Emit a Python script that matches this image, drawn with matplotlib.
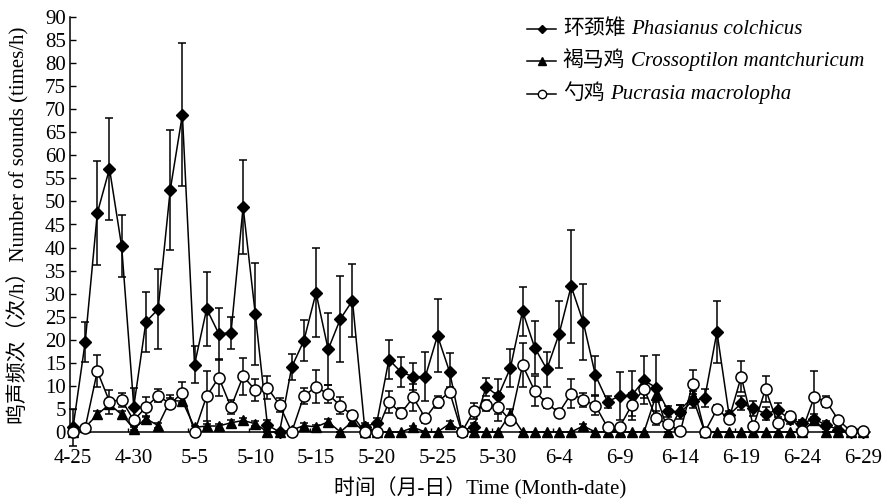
import matplotlib
matplotlib.use('Agg')
import matplotlib.pyplot as plt
from matplotlib.lines import Line2D
import numpy as np

# days from 4-25 to 6-29
days = np.arange(66)
tick_pos = np.arange(0, 66, 5)
tick_labels = ['4-25', '4-30', '5-5', '5-10', '5-15', '5-20', '5-25', '5-30',
               '6-4', '6-9', '6-14', '6-19', '6-24', '6-29']

# 环颈雉 Phasianus colchicus
phasianus = [1.0, 19.5, 47.5, 57.1, 40.3, 5.5, 23.9, 26.6, 52.5, 68.8,
             14.6, 26.7, 21.3, 21.5, 48.8, 25.6, 1.5, 0.0, 14.1, 19.8,
             30.2, 17.9, 24.5, 28.5, 1.1, 2.0, 15.7, 13.0, 12.0, 12.0,
             20.9, 13.0, 0.3, 1.1, 9.8, 7.8, 13.9, 26.2, 18.3, 13.6,
             21.2, 31.6, 23.8, 12.3, 6.6, 7.8, 8.0, 11.2, 9.6, 4.5,
             4.3, 6.7, 7.4, 21.7, 3.7, 6.2, 5.1, 4.0, 4.7, 2.8,
             1.9, 2.8, 1.5, 0.5, 0.0, 0.0]
phasianus_err = [4.0, 4.3, 11.2, 11.1, 6.7, 4.0, 6.5, 8.7, 13.0, 15.5,
                 4.0, 8.0, 5.7, 3.5, 10.2, 11.0, 1.0, 0.0, 2.8, 4.5,
                 9.6, 7.8, 9.3, 7.9, 0.8, 1.0, 4.2, 3.2, 2.9, 5.3,
                 7.9, 4.2, 0.5, 0.8, 2.0, 3.8, 4.1, 5.3, 5.8, 3.8,
                 7.3, 12.3, 8.2, 4.2, 1.3, 5.2, 5.3, 5.2, 7.2, 1.2,
                 1.5, 1.5, 2.0, 6.7, 0.8, 1.5, 1.6, 1.5, 1.5, 1.0,
                 0.8, 1.0, 0.8, 0.5, 0.0, 0.0]

# 褐马鸡 Crossoptilon mantchuricum
crossoptilon = [0.0, 1.0, 3.8, 6.0, 3.8, 0.7, 2.9, 1.4, 6.8, 6.7,
                1.0, 1.3, 1.3, 2.0, 2.5, 1.8, 0.0, 0.0, 0.4, 1.4,
                1.1, 2.2, 0.0, 2.3, 0.0, 0.0, 0.0, 0.0, 1.0, 0.0,
                0.0, 1.8, 0.3, 0.0, 0.0, 0.0, 4.0, 0.0, 0.0, 0.0,
                0.0, 0.0, 1.3, 0.0, 0.0, 0.0, 0.0, 0.0, 8.0, 0.0,
                4.9, 7.5, 0.0, 0.0, 0.0, 0.0, 0.0, 0.0, 0.0, 0.0,
                0.0, 2.5, 0.0, 0.0, 0.0, 0.0]
crossoptilon_err = [0.0, 0.5, 0.8, 1.0, 0.8, 0.3, 0.6, 0.5, 1.2, 1.0,
                    0.4, 0.5, 0.5, 0.6, 0.6, 0.5, 0.0, 0.0, 0.2, 0.5,
                    0.4, 0.6, 0.0, 0.6, 0.0, 0.0, 0.0, 0.0, 0.4, 0.0,
                    0.0, 0.6, 0.2, 0.0, 0.0, 0.0, 1.0, 0.0, 0.0, 0.0,
                    0.0, 0.0, 0.5, 0.0, 0.0, 0.0, 0.0, 0.0, 1.5, 0.0,
                    1.0, 1.5, 0.0, 0.0, 0.0, 0.0, 0.0, 0.0, 0.0, 0.0,
                    0.0, 0.8, 0.0, 0.0, 0.0, 0.0]

# 勺鸡 Pucrasia macrolopha
pucrasia = [0.0, 0.9, 13.2, 6.6, 7.0, 2.5, 5.4, 7.9, 6.1, 8.5,
            0.0, 7.8, 11.8, 5.4, 12.1, 9.1, 9.6, 5.9, 0.0, 7.8,
            9.8, 8.2, 5.7, 3.6, 0.0, 0.0, 6.5, 4.1, 7.5, 3.0,
            6.5, 8.7, 0.0, 4.6, 5.8, 5.4, 2.5, 14.5, 8.9, 6.2,
            4.2, 8.3, 7.0, 5.7, 1.0, 1.1, 5.9, 9.4, 3.0, 1.7,
            0.2, 10.5, 0.0, 4.9, 2.9, 12.0, 1.2, 9.3, 1.9, 3.4,
            0.2, 7.5, 6.6, 2.6, 0.2, 0.2]
pucrasia_err = [0.0, 0.5, 3.4, 2.6, 1.5, 1.0, 2.2, 1.5, 1.2, 2.3,
                0.0, 5.5, 4.0, 1.5, 4.0, 2.4, 2.5, 1.5, 0.0, 1.8,
                3.6, 1.9, 1.8, 1.0, 0.0, 0.0, 2.4, 1.0, 3.0, 1.0,
                1.3, 1.1, 0.0, 1.7, 1.2, 3.0, 0.8, 4.7, 3.2, 1.0,
                0.8, 3.2, 1.5, 2.0, 0.5, 0.5, 2.5, 2.0, 1.5, 0.5,
                0.2, 3.0, 0.0, 1.0, 0.8, 3.3, 0.5, 2.9, 0.8, 1.0,
                0.2, 5.8, 1.2, 0.8, 0.0, 0.0]

plt.rcParams['font.family'] = ['Liberation Serif', 'Noto Sans CJK SC']
plt.rcParams['font.size'] = 15

fig = plt.figure(figsize=(8.9, 5), dpi=100)
ax = fig.add_axes([70 / 890, 68 / 500, 800 / 890, 415 / 500])

common = dict(color='black', lw=1.1, elinewidth=1.1, capsize=3, capthick=1.1,
              clip_on=False)
ax.errorbar(days, phasianus, yerr=phasianus_err, marker='D', ms=6,
            mfc='black', mec='black', zorder=3, **common)
ax.errorbar(days, crossoptilon, yerr=crossoptilon_err, marker='^', ms=7,
            mfc='black', mec='black', zorder=4, **common)
ax.errorbar(days, pucrasia, yerr=pucrasia_err, marker='o', ms=8,
            mfc='white', mec='black', mew=1.1, zorder=5, **common)

ax.set_xlim(-0.25, 65.6)
ax.set_ylim(0, 90)
ax.set_yticks(np.arange(0, 91, 5))
ax.set_xticks(tick_pos)
ax.set_xticklabels(tick_labels)
ax.set_xticks(np.arange(4.5, 66, 5), minor=True)
ax.tick_params(axis='y', direction='in', length=4, width=1, pad=3)
ax.tick_params(axis='x', which='major', length=0, pad=12)
ax.tick_params(axis='x', which='minor', direction='in', length=3, width=1)
ax.spines['top'].set_visible(False)
ax.spines['right'].set_visible(False)
for s in ['left', 'bottom']:
    ax.spines[s].set_linewidth(1.1)

# legend built by hand so the latin names can be italic
legend_rows = [('环颈雉', 'Phasianus colchicus', 'D', 'black', 4.5),
               ('褐马鸡', 'Crossoptilon mantchuricum', '^', 'black', 6),
               ('勺鸡', 'Pucrasia macrolopha', 'o', 'white', 6)]
row_y = [0.958, 0.881, 0.802]
for (cn, latin, mk, fc, ms), y in zip(legend_rows, row_y):
    ax.add_line(Line2D([0.571, 0.5895, 0.608], [y + 0.013] * 3,
                       transform=ax.transAxes, color='black', lw=1.1,
                       marker=mk, ms=ms, mfc=fc, mec='black', markevery=[1],
                       clip_on=False))
    t = ax.text(0.616, y, cn, transform=ax.transAxes, ha='left', va='baseline',
                fontsize=15)
    ax.annotate(latin, xy=(1, y), xycoords=(t, 'axes fraction'),
                xytext=(4, 0), textcoords='offset points', ha='left',
                va='baseline', fontsize=15, style='italic',
                family='Liberation Serif')

fig.text(18 / 890, 0.55, '鸣声频次（次/h）Number of sounds (times/h)',
         rotation=90, ha='center', va='center', fontsize=15)
fig.text(480 / 890, 12 / 500, '时间（月-日）Time (Month-date)',
         ha='center', va='center', fontsize=15)

fig.savefig('out.png', dpi=100)
